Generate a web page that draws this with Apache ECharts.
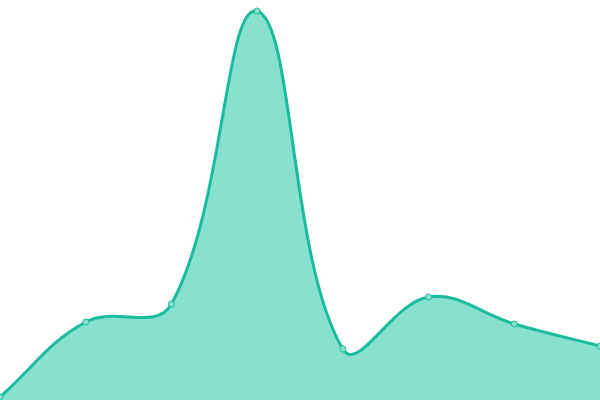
<!DOCTYPE html>
<html>
<head>
<meta charset="utf-8">
<script src="https://cdn.jsdelivr.net/npm/echarts@6/dist/echarts.min.js"></script>
<style>
html,body{margin:0;padding:0;background:#fff;}
#chart{width:600px;height:400px;}
</style>
</head>
<body>
<div id="chart"></div>
<script>
// categories and values
var categories = ['1', '2', '3', '4', '5', '6', '7', '8'];
var values = [3, 78, 96, 389, 51, 103, 76, 54];

var lineColor = '#1abc9c';
var areaColor = '#88e0ce';
var tension = 0.4;

// spline through the projected points, control points weighted by segment length
function curvePath(api, rect) {
    var pts = values.map(function (v, i) {
        return api.coord([i, v]);
    });
    var n = pts.length;
    var cps = pts.map(function (p, i) {
        var prev = pts[Math.max(i - 1, 0)];
        var next = pts[Math.min(i + 1, n - 1)];
        var d01 = Math.hypot(p[0] - prev[0], p[1] - prev[1]);
        var d12 = Math.hypot(next[0] - p[0], next[1] - p[1]);
        var s01 = d01 / (d01 + d12 || 1);
        var s12 = d12 / (d01 + d12 || 1);
        var fa = tension * s01, fb = tension * s12;
        var clampX = function (x) { return Math.min(Math.max(x, rect.x), rect.x + rect.width); };
        var clampY = function (y) { return Math.min(Math.max(y, rect.y), rect.y + rect.height); };
        return {
            px: clampX(p[0] - fa * (next[0] - prev[0])),
            py: clampY(p[1] - fa * (next[1] - prev[1])),
            nx: clampX(p[0] + fb * (next[0] - prev[0])),
            ny: clampY(p[1] + fb * (next[1] - prev[1]))
        };
    });
    var d = 'M' + pts[0][0] + ' ' + pts[0][1];
    for (var i = 0; i < n - 1; i++) {
        d += ' C' + cps[i].nx + ' ' + cps[i].ny + ' ' + cps[i + 1].px + ' ' + cps[i + 1].py +
            ' ' + pts[i + 1][0] + ' ' + pts[i + 1][1];
    }
    return {d: d, first: pts[0], last: pts[n - 1]};
}

var chart = echarts.init(document.getElementById('chart'));
chart.setOption({
    animation: false,
    grid: {left: 0, right: 0, top: 0, bottom: 0},
    xAxis: {
        type: 'category',
        boundaryGap: false,
        data: categories,
        show: false
    },
    yAxis: {
        type: 'value',
        min: 0,
        max: 400,
        show: false
    },
    series: [{
        type: 'custom',
        data: values.map(function (v, i) { return [i, v]; }),
        renderItem: function (params, api) {
            if (params.dataIndex !== 0) {
                return null;
            }
            var c = curvePath(api, params.coordSys);
            var base = api.coord([0, 0])[1];
            return {
                type: 'group',
                children: [{
                    type: 'path',
                    shape: {pathData: c.d + ' L' + c.last[0] + ' ' + base + ' L' + c.first[0] + ' ' + base + ' Z'},
                    style: {fill: areaColor, stroke: null}
                }, {
                    type: 'path',
                    shape: {pathData: c.d},
                    style: {fill: null, stroke: lineColor, lineWidth: 3}
                }]
            };
        },
        z: 1
    }, {
        type: 'line',
        data: values,
        symbol: 'circle',
        symbolSize: 6,
        lineStyle: {opacity: 0},
        itemStyle: {color: areaColor, borderColor: lineColor, borderWidth: 1},
        z: 2
    }]
});
</script>
</body>
</html>
